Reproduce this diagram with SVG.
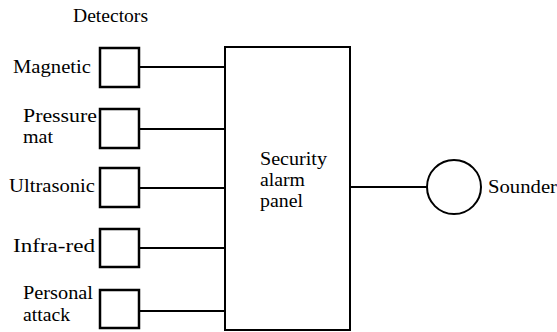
<svg xmlns="http://www.w3.org/2000/svg" width="557" height="332" viewBox="0 0 557 332">
<style>
text{font-family:"Liberation Serif","Times New Roman",serif;font-size:18px;fill:#000}
.b{fill:#fff;stroke:#000;stroke-width:2.5}
.c{stroke:#000;stroke-width:2;fill:none}
</style>
<rect width="557" height="332" fill="#fff"/>
<text x="73" y="22" textLength="75" lengthAdjust="spacingAndGlyphs">Detectors</text>
<g id="connectors">
<line class="c" x1="139" y1="67" x2="225" y2="67"/>
<line class="c" x1="139" y1="129" x2="225" y2="129"/>
<line class="c" x1="139" y1="188" x2="225" y2="188"/>
<line class="c" x1="139" y1="248" x2="225" y2="248"/>
<line class="c" x1="139" y1="311" x2="225" y2="311"/>
<line class="c" x1="350" y1="187" x2="427" y2="187"/>
</g>
<g id="magnetic">
<rect class="b" x="100" y="48" width="39" height="39"/>
<text x="13" y="73" textLength="78" lengthAdjust="spacingAndGlyphs">Magnetic</text>
</g>
<g id="pressure">
<rect class="b" x="100" y="109" width="39" height="39"/>
<text x="23" y="122" textLength="74" lengthAdjust="spacingAndGlyphs">Pressure</text>
<text x="23" y="143" textLength="30" lengthAdjust="spacingAndGlyphs">mat</text>
</g>
<g id="ultrasonic">
<rect class="b" x="100" y="168" width="39" height="39"/>
<text x="9" y="192" textLength="86" lengthAdjust="spacingAndGlyphs">Ultrasonic</text>
</g>
<g id="infrared">
<rect class="b" x="100" y="229" width="39" height="38"/>
<text x="13" y="252" textLength="82" lengthAdjust="spacingAndGlyphs">Infra-red</text>
</g>
<g id="personal">
<rect class="b" x="100" y="290" width="39" height="38"/>
<text x="23" y="299" textLength="70" lengthAdjust="spacingAndGlyphs">Personal</text>
<text x="23" y="321" textLength="47" lengthAdjust="spacingAndGlyphs">attack</text>
</g>
<g id="panel">
<rect class="c" x="225" y="47" width="125" height="283"/>
<text x="260" y="165" textLength="67" lengthAdjust="spacingAndGlyphs">Security</text>
<text x="260" y="186" textLength="45" lengthAdjust="spacingAndGlyphs">alarm</text>
<text x="260" y="207" textLength="43" lengthAdjust="spacingAndGlyphs">panel</text>
</g>
<g id="sounder">
<circle class="c" cx="454" cy="187" r="27"/>
<text x="488" y="193" textLength="69" lengthAdjust="spacingAndGlyphs">Sounder</text>
</g>
</svg>
